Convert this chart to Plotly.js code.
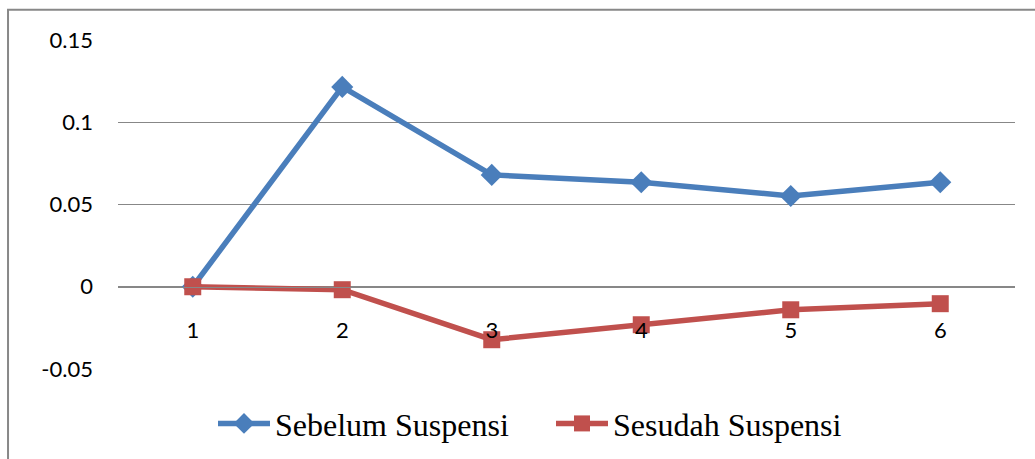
<!DOCTYPE html>
<html>
<head>
<meta charset="utf-8">
<script src="https://cdn.plot.ly/plotly-3.0.1.min.js"></script>
<style>
html,body{margin:0;padding:0;background:#fff;}
#chart{width:1035px;height:459px;}
</style>
</head>
<body>
<div id="chart"></div>
<script>
const categories = ['1', '2', '3', '4', '5', '6'];
const sebelum = [0, 0.1215, 0.068, 0.0635, 0.0552, 0.0635];
const sesudah = [0, -0.0018, -0.0322, -0.0231, -0.0140, -0.0103];
const yTicks = [-0.05, 0, 0.05, 0.1, 0.15];
const yTickLabels = ['-0.05', '0', '0.05', '0.1', '0.15'];

const traces = [
  {
    x: categories, y: sebelum, name: 'Sebelum Suspensi', type: 'scatter', mode: 'lines+markers',
    line: {color: '#4A7EBB', width: 5.5},
    marker: {symbol: 'diamond', size: 17, color: '#4A7EBB'}
  },
  {
    x: categories, y: sesudah, name: 'Sesudah Suspensi', type: 'scatter', mode: 'lines+markers',
    line: {color: '#C0504D', width: 5.5},
    marker: {symbol: 'square', size: 17, color: '#C0504D'}
  }
];

const layout = {
  width: 1035, height: 459,
  margin: {l: 118, r: 20, t: 40, b: 90, pad: 0, autoexpand: false},
  paper_bgcolor: '#fff', plot_bgcolor: '#fff',
  showlegend: true,
  legend: {
    orientation: 'h', xref: 'container', yref: 'container',
    x: 0.2058, xanchor: 'left', y: 0.137, yanchor: 'top',
    font: {family: 'Liberation Serif', size: 32, color: '#000'},
    itemwidth: 52, entrywidth: 271, entrywidthmode: 'pixels', traceorder: 'normal'
  },
  xaxis: {
    type: 'category', range: [-0.5, 5.5], anchor: 'free', position: 0.25,
    showgrid: false, zeroline: false,
    showline: true, linecolor: '#878787', linewidth: 1,
    ticks: '', ticklabelstandoff: 24,
    tickfont: {family: 'Lato', size: 22, color: '#000'},
    fixedrange: true
  },
  yaxis: {
    range: [-0.05, 0.15], tickvals: yTicks, ticktext: yTickLabels,
    showgrid: true, gridcolor: '#878787', gridwidth: 1,
    zeroline: false, showline: false, ticks: '', ticklabelstandoff: 24,
    tickfont: {family: 'Lato', size: 22, color: '#000'},
    fixedrange: true
  },
  shapes: [
    {type: 'rect', xref: 'paper', yref: 'paper', x0: -0.1226, x1: 1.05, y0: -0.5, y1: 1.092,
     line: {color: '#888888', width: 2}, fillcolor: 'rgba(0,0,0,0)', layer: 'below'}
  ]
};

Plotly.newPlot('chart', traces, layout, {staticPlot: true, displayModeBar: false});
</script>
</body>
</html>
